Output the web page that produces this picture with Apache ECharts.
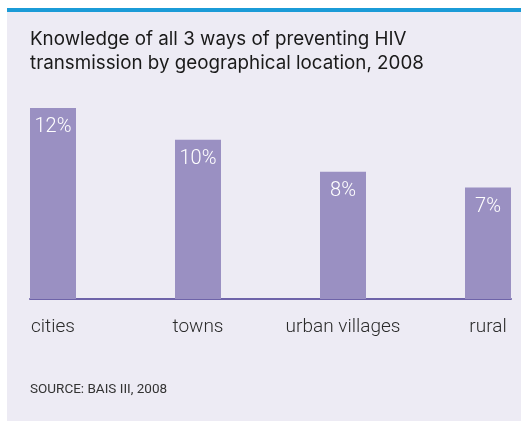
<!DOCTYPE html>
<html>
<head>
<meta charset="utf-8">
<script src="https://cdn.jsdelivr.net/npm/echarts@6/dist/echarts.min.js"></script>
<style>
  html, body { margin: 0; padding: 0; background: #ffffff; }
  #chart { position: absolute; left: 7px; top: 8px; width: 514px; height: 413px; }
</style>
</head>
<body>
<div id="chart"></div>
<script>
// data
const locations = ["cities", "towns", "urban villages", "rural"];
const knowledgePct = [12, 10, 8, 7];

const titleText = "Knowledge of all 3 ways of preventing HIV\ntransmission by geographical location, 2008";
const sourceText = "SOURCE: BAIS III, 2008";

const chart = echarts.init(document.getElementById("chart"));

chart.setOption({
  animation: false,
  backgroundColor: "#edebf4",
  graphic: [
    { type: "rect", left: 0, top: 0, shape: { width: 514, height: 4 }, style: { fill: "#1b9bd7" } }
  ],
  title: [
    {
      text: titleText,
      left: 23,
      top: 19,
      padding: 0,
      textStyle: { fontFamily: "Inter", fontWeight: "normal", fontSize: 18.8, lineHeight: 24, color: "#1a1a1a" }
    },
    {
      text: sourceText,
      left: 23,
      top: 375,
      padding: 0,
      textStyle: { fontFamily: "Roboto", fontWeight: "normal", fontSize: 13.5, color: "#333333" }
    }
  ],
  grid: [
    { left: 46, right: 33, top: 100, bottom: 122 },
    { left: 23, right: 10, top: 100, bottom: 122 }
  ],
  xAxis: [
    {
      type: "category",
      gridIndex: 0,
      data: locations,
      boundaryGap: false,
      axisLine: { show: false },
      axisTick: { show: false },
      axisLabel: { interval: 0, margin: 19, fontFamily: "Roboto", fontWeight: 300, fontSize: 19, color: "#2a2a2a" }
    },
    {
      type: "value",
      gridIndex: 1,
      min: 0,
      max: 1,
      axisLine: { show: true, onZero: false, lineStyle: { color: "#6e63a9", width: 2 } },
      axisTick: { show: false },
      axisLabel: { show: false },
      splitLine: { show: false }
    }
  ],
  yAxis: [
    { type: "value", gridIndex: 0, min: 0, max: 12, show: false, splitLine: { show: false } },
    { type: "value", gridIndex: 1, min: 0, max: 1, show: false, splitLine: { show: false } }
  ],
  series: [
    {
      type: "bar",
      xAxisIndex: 0,
      yAxisIndex: 0,
      data: knowledgePct,
      barWidth: 46,
      itemStyle: { color: "#9a90c2" },
      label: {
        show: true,
        position: "insideTop",
        distance: 9,
        formatter: "{c}%",
        fontFamily: "Roboto",
        fontWeight: 300,
        fontSize: 20,
        color: "#ffffff"
      }
    }
  ]
});
</script>
</body>
</html>
